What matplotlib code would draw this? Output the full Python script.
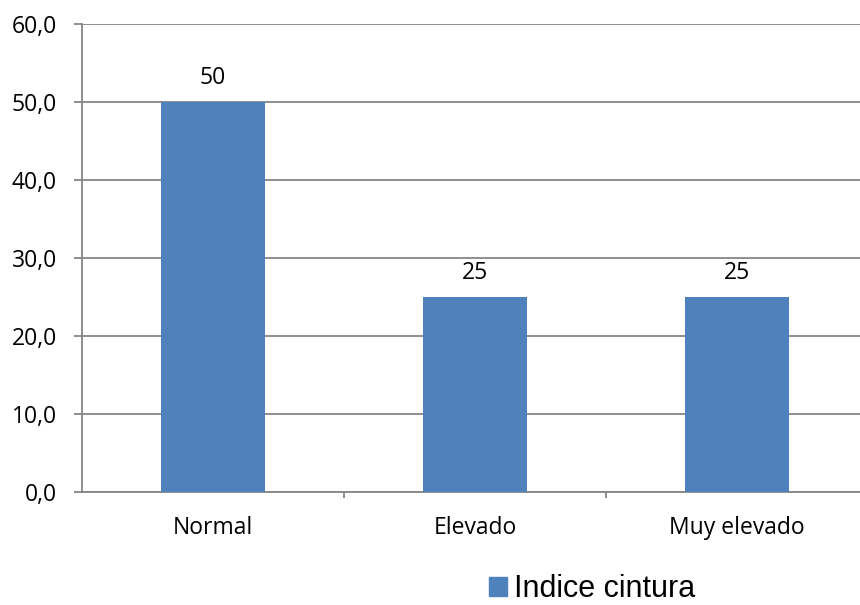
import matplotlib.pyplot as plt
from matplotlib.patches import Patch

categorias = ["Normal", "Elevado", "Muy elevado"]
valores = [50, 25, 25]
etiquetas = ["50", "25", "25"]
serie = "Indice cintura"

plt.rcParams['font.family'] = ['Open Sans', 'DejaVu Sans']

fig = plt.figure(figsize=(8.6, 6.05), dpi=100)
ax = fig.add_axes([82 / 860, 1 - 492 / 605, 778 / 860, 468 / 605])

pos = list(range(len(categorias)))
bars = ax.bar(pos, valores, width=0.4, color="#4F81BD", zorder=3)

for b, t in zip(bars, etiquetas):
    ax.text(b.get_x() + b.get_width() / 2, b.get_height() + 1.5, t,
            ha="center", va="bottom", fontsize=16.5)

ax.set_ylim(0, 60)
ax.set_xlim(-0.5, 2.5 - 8 / 262)
ax.set_yticks(range(0, 61, 10))
ax.set_yticklabels([f"{v:.1f}".replace(".", ",") for v in range(0, 61, 10)], fontsize=16.5)
ax.set_xticks([0.5, 1.5])
ax.set_xticklabels([])
ax.tick_params(axis="x", length=4.5, color="#868686", width=1.3, direction="out")
ax.tick_params(axis="y", length=6, color="#868686", width=1.3, pad=12)
ax.yaxis.grid(True, color="#868686", linewidth=1.3, zorder=0)

for i, c in enumerate(categorias):
    ax.text(i, -4.6, c, ha="center", va="center", fontsize=16.5)

for s in ["top", "right"]:
    ax.spines[s].set_visible(False)
for s in ["left", "bottom"]:
    ax.spines[s].set_color("#868686")
    ax.spines[s].set_linewidth(1.3)

fig.legend(handles=[Patch(color="#4F81BD", label=serie)],
           loc="center", bbox_to_anchor=(592 / 860, 1 - 589 / 605),
           frameon=False, prop={"family": "Liberation Sans", "size": 22},
           handlelength=0.6, handleheight=0.6, handletextpad=0.2,
           borderpad=0.1)

fig.savefig("out.png", dpi=100)
